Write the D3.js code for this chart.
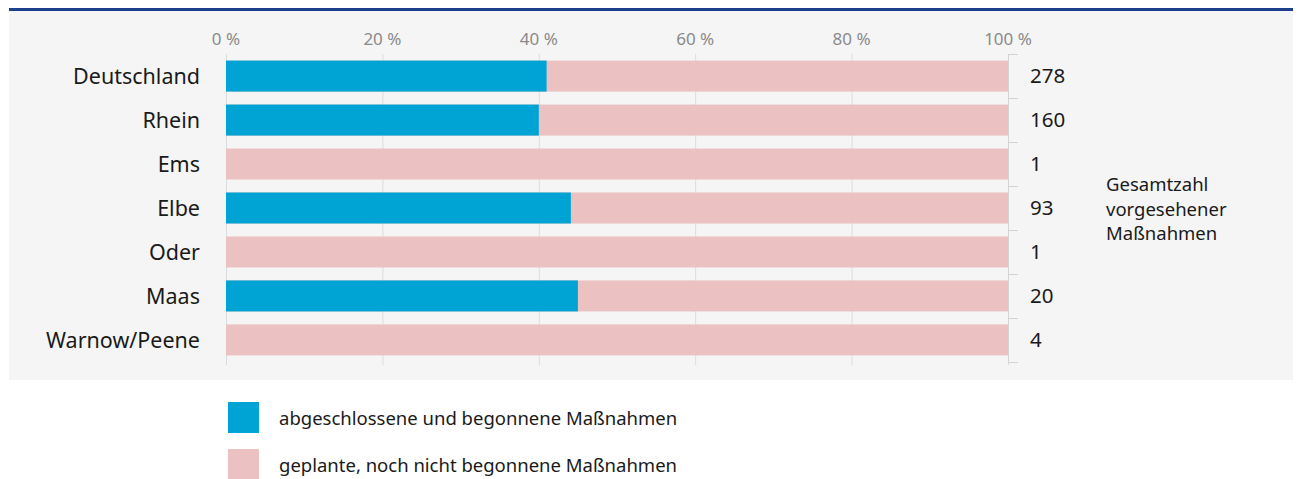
<!DOCTYPE html>
<html>
<head>
<meta charset="utf-8">
<script src="https://cdn.jsdelivr.net/npm/d3@7"></script>
<style>
  body { margin: 0; background: #fff; }
  text { font-family: "Noto Sans", sans-serif; }
</style>
</head>
<body>
<svg id="chart" width="1300" height="479"></svg>
<script>
const categories = ['Deutschland', 'Rhein', 'Ems', 'Elbe', 'Oder', 'Maas', 'Warnow/Peene'];
const shareDone = [41.0, 40.0, 0, 44.1, 0, 45.0, 0];   // % abgeschlossen/begonnen
const totals = [278, 160, 1, 93, 1, 20, 4];
const xTicks = [0, 20, 40, 60, 80, 100];
const seriesNames = ['abgeschlossene und begonnene Maßnahmen', 'geplante, noch nicht begonnene Maßnahmen'];
const colors = ['#00a4d4', '#ebc1c2'];
const sideNote = ['Gesamtzahl', 'vorgesehener', 'Maßnahmen'];

const svg = d3.select('#chart');

// panel + top rule
svg.append('rect').attr('x', 9).attr('y', 10).attr('width', 1284).attr('height', 370).attr('fill', '#f5f5f5');
svg.append('rect').attr('x', 9).attr('y', 8).attr('width', 1284).attr('height', 3).attr('fill', '#1d3f8d');

const x = d3.scaleLinear().domain([0, 100]).range([226, 1008]);
const y = d3.scaleBand().domain(categories).range([54, 362]).paddingInner(0.295).paddingOuter(0.15);

// grid
svg.append('g').selectAll('line').data(xTicks).join('line')
    .attr('x1', d => x(d) + 0.5).attr('x2', d => x(d) + 0.5)
    .attr('y1', 54).attr('y2', 365)
    .attr('stroke', '#dcdcdc').attr('stroke-width', 1);

// top axis labels
svg.append('g').selectAll('text').data(xTicks).join('text')
    .attr('x', d => x(d)).attr('y', 45)
    .attr('text-anchor', 'middle')
    .attr('fill', '#8a8a8a').attr('font-size', 17)
    .text(d => d + ' %');

// bars
const rows = categories.map((c, i) => ({c, done: shareDone[i], total: totals[i]}));
const g = svg.append('g');
g.selectAll('rect.rest').data(rows).join('rect')
    .attr('class', 'rest')
    .attr('x', x(0)).attr('y', d => y(d.c))
    .attr('width', x(100) - x(0)).attr('height', y.bandwidth())
    .attr('fill', colors[1]);
g.selectAll('rect.done').data(rows.filter(d => d.done > 0)).join('rect')
    .attr('class', 'done')
    .attr('x', x(0)).attr('y', d => y(d.c))
    .attr('width', d => x(d.done) - x(0)).attr('height', y.bandwidth())
    .attr('fill', colors[0]);

// category labels
svg.append('g').selectAll('text').data(categories).join('text')
    .attr('x', 200).attr('y', d => y(d) + y.bandwidth() / 2)
    .attr('dy', '0.36em').attr('text-anchor', 'end')
    .attr('fill', '#1a1a1a').attr('font-size', 21.5)
    .text(d => d);

// right axis with band boundary ticks
const bounds = categories.map(c => y(c) - y.step() * y.paddingInner() / 2);
bounds.push(y(categories[categories.length - 1]) + y.bandwidth() + y.step() * y.paddingInner() / 2);
const ra = svg.append('g').attr('stroke', '#d4d4d4');
ra.append('line').attr('x1', 1008.5).attr('x2', 1008.5).attr('y1', bounds[0]).attr('y2', bounds[bounds.length - 1]);
ra.selectAll('line.t').data(bounds).join('line').attr('class', 't')
    .attr('x1', 1008).attr('x2', 1018)
    .attr('y1', d => Math.round(d) + 0.5).attr('y2', d => Math.round(d) + 0.5);

svg.append('g').selectAll('text').data(rows).join('text')
    .attr('x', 1030).attr('y', d => y(d.c) + y.bandwidth() / 2)
    .attr('dy', '0.36em')
    .attr('fill', '#1a1a1a').attr('font-size', 20.5)
    .text(d => d.total);

svg.append('g').selectAll('text').data(sideNote).join('text')
    .attr('x', 1106).attr('y', (d, i) => 191 + i * 24.5)
    .attr('fill', '#1a1a1a').attr('font-size', 18.5)
    .text(d => d);

// legend
const lg = svg.append('g').selectAll('g').data(seriesNames).join('g')
    .attr('transform', (d, i) => `translate(228,${402 + i * 47})`);
lg.append('rect').attr('width', 31).attr('height', 31).attr('fill', (d, i) => colors[i]);
lg.append('text').attr('x', 51).attr('y', 16).attr('dy', '0.36em')
    .attr('fill', '#1a1a1a').attr('font-size', 18.5)
    .text(d => d);
</script>
</body>
</html>
